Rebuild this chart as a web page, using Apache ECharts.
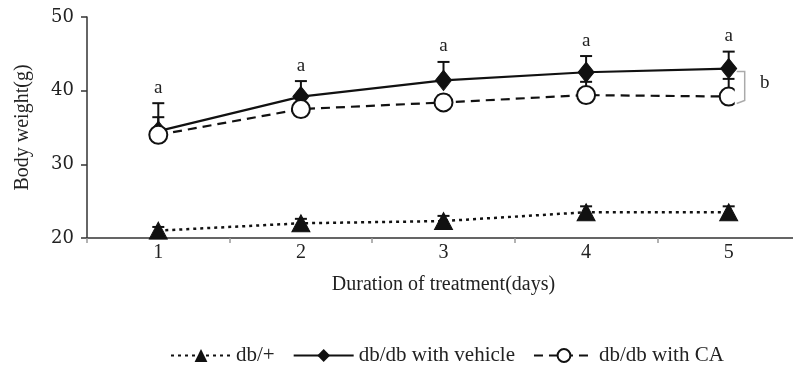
<!DOCTYPE html>
<html>
<head>
<meta charset="utf-8">
<script src="https://cdn.jsdelivr.net/npm/echarts@6/dist/echarts.min.js"></script>
<style>
html,body{margin:0;padding:0;background:#fff;overflow:hidden;width:793px;height:369px;}
#chart{width:800px;height:369px;}
</style>
</head>
<body>
<div id="chart"></div>
<script>
const days = ['1', '2', '3', '4', '5'];
const dbPlus = [21.0, 22.0, 22.3, 23.5, 23.5];
const dbPlusErr = [0.5, 0.6, 0.7, 0.8, 0.8];
const vehicle = [34.5, 39.2, 41.4, 42.5, 43.0];
const vehicleErr = [3.8, 2.1, 2.5, 2.2, 2.3];
const ca = [34.0, 37.5, 38.4, 39.4, 39.2];
const caErr = [2.4, 1.5, 1.0, 1.8, 2.4];
const vehicleLetters = ['a', 'a', 'a', 'a', 'a'];
const bracketLetter = 'b';
const seriesNames = ['db/+', 'db/db with vehicle', 'db/db with CA'];
const yTicks = [20, 30, 40, 50];

const FONT = '"Liberation Serif", "DejaVu Serif", serif';
const INK = '#111';

function errData(vals, errs, letters) {
  return vals.map((v, i) => [i, v, v + errs[i], letters ? letters[i] : '']);
}

function errRender(params, api) {
  const i = api.value(0);
  const base = api.coord([i, api.value(1)]);
  const top = api.coord([i, api.value(2)]);
  const label = api.value(3);
  const children = [
    { type: 'line', shape: { x1: base[0], y1: base[1], x2: top[0], y2: top[1] },
      style: { stroke: INK, lineWidth: 2 } },
    { type: 'line', shape: { x1: top[0] - 6, y1: top[1], x2: top[0] + 6, y2: top[1] },
      style: { stroke: INK, lineWidth: 2 } }
  ];
  if (label) {
    children.push({ type: 'text', style: { text: label, x: top[0], y: top[1] - 6,
      align: 'center', verticalAlign: 'bottom', font: '19px ' + FONT, fill: '#222' } });
  }
  return { type: 'group', children };
}

function bracketRender(params, api) {
  const i = api.value(0);
  const a = api.coord([i, api.value(1)]);
  const b = api.coord([i, api.value(2)]);
  const x = a[0];
  const yTop = Math.min(a[1], b[1]);
  const yBot = Math.max(a[1], b[1]);
  return { type: 'group', children: [
    { type: 'rect', shape: { x: x + 6, y: yTop + 4, width: 12, height: yBot - yTop + 4 },
      style: { fill: '#fff' } },
    { type: 'polyline', shape: { points: [[x + 8, yTop + 3], [x + 16, yTop + 3], [x + 16, yBot + 4], [x + 8, yBot + 7]] },
      style: { stroke: '#aaa', lineWidth: 1.5, fill: null } },
    { type: 'text', style: { text: api.value(3), x: x + 36, y: (yTop + yBot) / 2,
      align: 'center', verticalAlign: 'middle', font: '19px ' + FONT, fill: '#222' } }
  ]};
}

const chart = echarts.init(document.getElementById('chart'), null, { renderer: 'canvas' });
chart.setOption({
  animation: false,
  backgroundColor: '#fff',
  grid: { left: 87, top: 17, right: 0, height: 221, containLabel: false },
  xAxis: {
    type: 'category', data: days, boundaryGap: true,
    name: 'Duration of treatment(days)', nameLocation: 'middle', nameGap: 37,
    nameTextStyle: { fontFamily: FONT, fontSize: 20, color: '#222' },
    axisLine: { lineStyle: { color: '#333', width: 1.5 } },
    axisTick: { show: true, length: 5, interval: 0, lineStyle: { color: '#999', width: 1.5 } },
    axisLabel: { margin: 5, fontFamily: FONT, fontSize: 20, color: '#222' },
    splitLine: { show: false }
  },
  yAxis: {
    type: 'value', min: yTicks[0], max: yTicks[yTicks.length - 1], interval: 10,
    name: 'Body weight(g)', nameLocation: 'middle', nameGap: 54,
    nameTextStyle: { fontFamily: FONT, fontSize: 20, color: '#222' },
    axisLine: { show: true, lineStyle: { color: '#333', width: 1.5 } },
    axisTick: { show: true, length: 6, lineStyle: { color: '#333', width: 1.5 } },
    axisLabel: { margin: 13, fontFamily: '"DejaVu Serif", serif', fontSize: 18, color: '#222' },
    splitLine: { show: false }
  },
  legend: {
    data: seriesNames, left: 165, top: 340, itemWidth: 60, itemHeight: 16, itemGap: 18,
    textStyle: { fontFamily: FONT, fontSize: 21, color: '#222' }
  },
  series: [
    { type: 'custom', name: 'err-dbplus', renderItem: errRender, data: errData(dbPlus, dbPlusErr), z: 1, silent: true },
    { type: 'custom', name: 'err-ca', renderItem: errRender, data: errData(ca, caErr), z: 1, silent: true },
    { type: 'custom', name: 'err-vehicle', renderItem: errRender, data: errData(vehicle, vehicleErr, vehicleLetters), z: 1, silent: true },
    { type: 'line', name: seriesNames[0], data: dbPlus, z: 3,
      symbol: 'triangle', symbolSize: [18, 17],
      lineStyle: { color: INK, width: 2.5, type: [3, 4] },
      itemStyle: { color: INK, borderColor: INK } },
    { type: 'line', name: seriesNames[1], data: vehicle, z: 3,
      symbol: 'diamond', symbolSize: [16, 20],
      lineStyle: { color: INK, width: 2.2, type: 'solid' },
      itemStyle: { color: INK, borderColor: INK } },
    { type: 'line', name: seriesNames[2], data: ca, z: 4,
      symbol: 'circle', symbolSize: 18,
      lineStyle: { color: INK, width: 2.2, type: [9, 6] },
      itemStyle: { color: '#fff', borderColor: INK, borderWidth: 2 } },
    { type: 'custom', name: 'bracket', renderItem: bracketRender, z: 5, silent: true,
      data: [[4, vehicle[4], ca[4], bracketLetter]] }
  ]
});
</script>
</body>
</html>
